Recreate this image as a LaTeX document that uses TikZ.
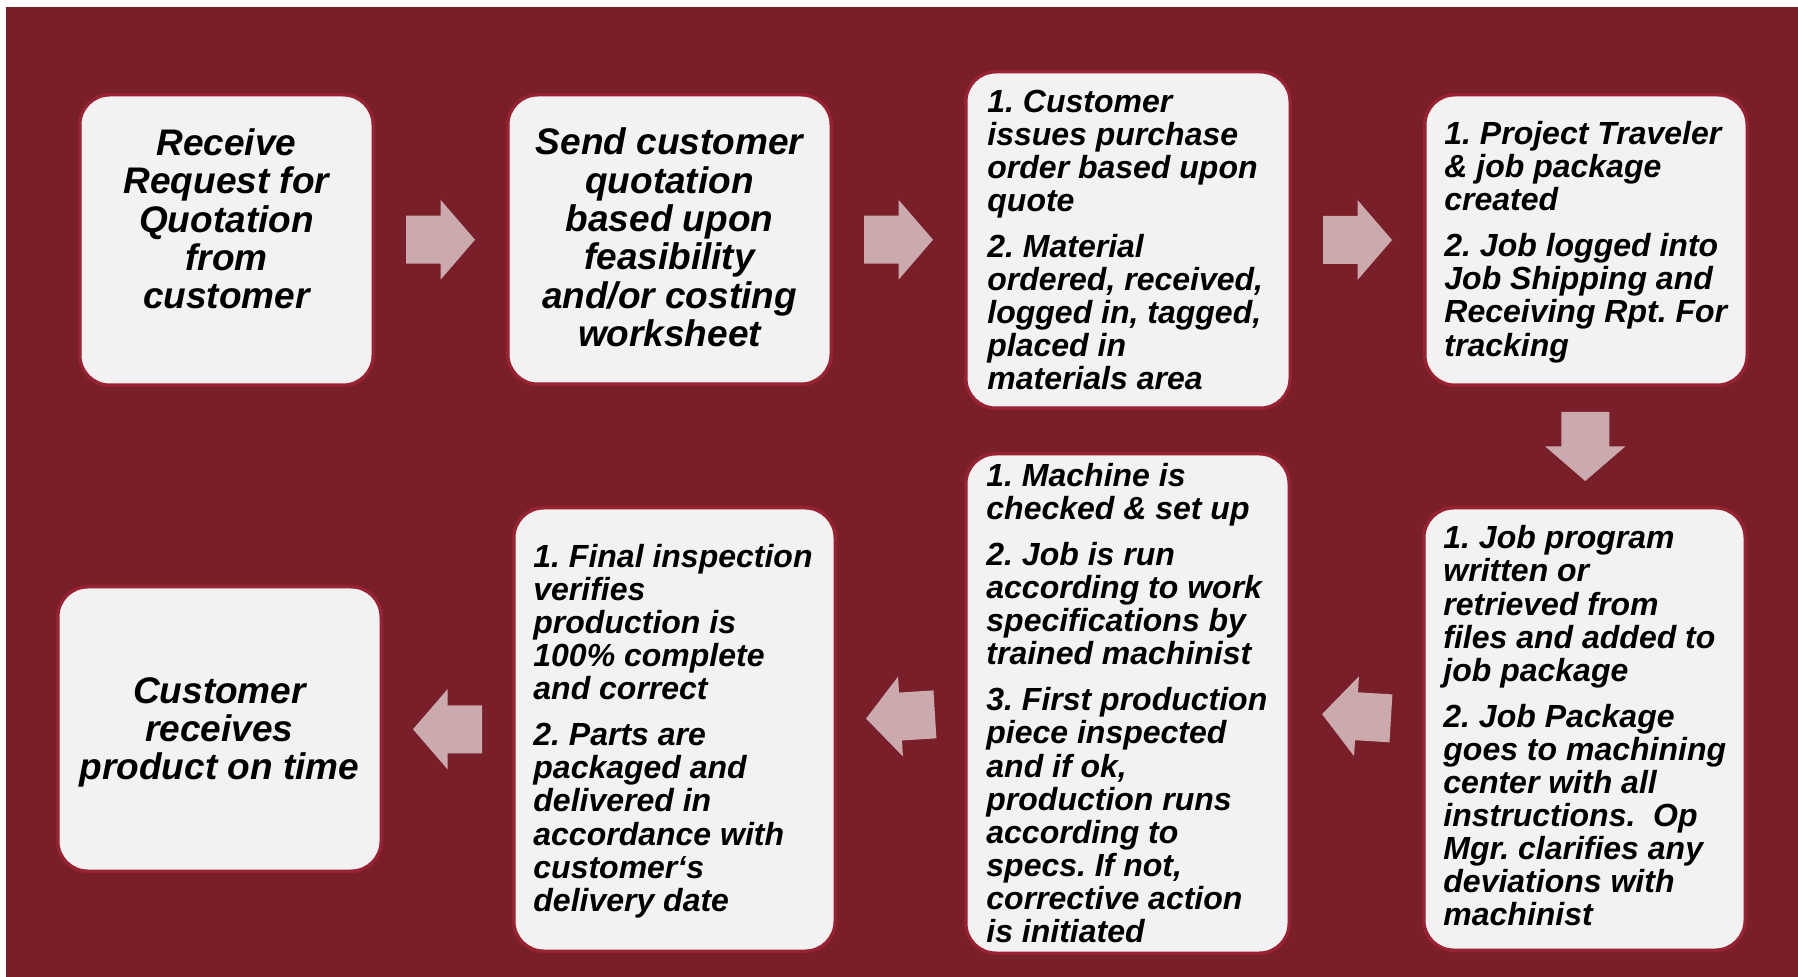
\documentclass[tikz,border=0pt]{standalone}
\usepackage{fontspec}
\setmainfont{Liberation Sans}
\usetikzlibrary{calc}
\definecolor{bgred}{RGB}{121,31,42}
\definecolor{boxedge}{RGB}{152,34,50}
\definecolor{boxfill}{RGB}{242,242,242}
\definecolor{arrowpink}{RGB}{202,170,173}
\frenchspacing

\begin{document}
\begin{tikzpicture}[x=0.5pt,y=-0.5pt,
  stepbox/.style={draw=boxedge, line width=1.75pt, fill=boxfill, rounded corners=15pt, inner sep=0pt},
  bigtext/.style={inner sep=0pt, align=center, font=\fontsize{18.5}{19.15}\selectfont\bfseries\itshape\frenchspacing},
  listtext/.style={inner sep=0pt, align=left, anchor=west, font=\fontsize{16}{16.55}\selectfont\bfseries\itshape\frenchspacing},
  blockarrow/.pic={\fill[arrowpink] (-34.5,-24) -- (0,-24) -- (0,-40) -- (34.5,0) -- (0,40) -- (0,24) -- (-34.5,24) -- cycle;}
]
\useasboundingbox (0,0) rectangle (1798,977);
\fill[white] (0,0) rectangle (1798,977);
\fill[bgred] (6,7) rectangle (1798,977);

% process boxes
\node[stepbox, minimum width=146.75pt, minimum height=145.25pt] (b1) at (226.5,240) {};
\node[stepbox, minimum width=161.75pt, minimum height=144.75pt] (b2) at (669.5,239.5) {};
\node[stepbox, minimum width=162.25pt, minimum height=168.25pt] (b3) at (1128,240) {};
\node[stepbox, minimum width=161.25pt, minimum height=145.25pt] (b4) at (1586,240) {};
\node[stepbox, minimum width=160.75pt, minimum height=221.25pt] (b5) at (1584.5,729) {};
\node[stepbox, minimum width=161.75pt, minimum height=249.75pt] (b6) at (1127.5,703.5) {};
\node[stepbox, minimum width=160.75pt, minimum height=221.75pt] (b7) at (674.5,729.5) {};
\node[stepbox, minimum width=161.75pt, minimum height=142.25pt] (b8) at (219.5,729) {};

% box texts
\node[bigtext] (t1) at (226.5,219) {Receive\\Request for\\Quotation\\from\\customer};
\node[bigtext] (t2) at (669.5,237.5) {Send customer\\quotation\\based upon\\feasibility\\and/or costing\\worksheet};
\node[listtext] (t3) at (987,240) {1. Customer\\issues purchase\\order based upon\\quote\\[6.5pt]2. Material\\ordered, received,\\logged in, tagged,\\placed in\\materials area};
\node[listtext] (t4) at (1444,242) {1. Project Traveler\\\& job package\\created\\[6.5pt]2. Job logged into\\Job Shipping and\\Receiving Rpt. For\\tracking};
\node[listtext] (t5) at (1443,726) {1. Job program\\written or\\retrieved from\\files and added to\\job package\\[6.5pt]2. Job Package\\goes to machining\\center with all\\instructions.\ \ Op\\Mgr. clarifies any\\deviations with\\machinist};
\node[listtext] (t6) at (986,703) {1. Machine is\\checked \& set up\\[6.5pt]2. Job is run\\according to work\\specifications by\\trained machinist\\[6.5pt]3. First production\\piece inspected\\and if ok,\\production runs\\according to\\specs. If not,\\corrective action\\is initiated};
\node[listtext] (t7) at (533,731) {1. Final inspection\\verifies\\production is\\100\% complete\\and correct\\[6.5pt]2. Parts are\\packaged and\\delivered in\\accordance with\\customer‘s\\delivery date};
\node[bigtext] (t8) at (219.5,732.5) {Customer\\receives\\product on time};

% block arrows between the steps
\pic at ($(b1.east)!0.5!(b2.west)$) {blockarrow};
\pic at ($(b2.east)!0.5!(b3.west)$) {blockarrow};
\pic at ($(b3.east)!0.5!(b4.west)$) {blockarrow};
\pic[rotate=-90] at ($(b4.south)!0.5!(b5.north)$) {blockarrow};
\pic[rotate=176.5] at ($(b5.west)!0.5!(b6.east)$) {blockarrow};
\pic[rotate=183.5] at ($(b6.west)!0.5!(b7.east)$) {blockarrow};
\pic[rotate=180] at ($(b7.west)!0.5!(b8.east)$) {blockarrow};
\end{tikzpicture}
\end{document}
